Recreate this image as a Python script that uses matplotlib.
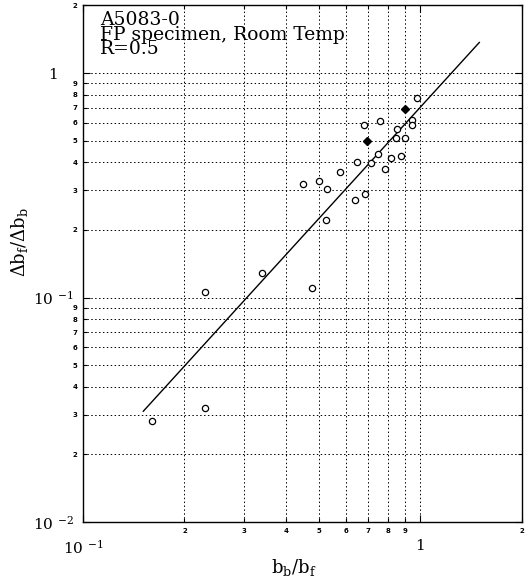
import numpy as np
import matplotlib
matplotlib.use("Agg")
import matplotlib.pyplot as plt
from matplotlib.ticker import FixedLocator, FixedFormatter

# measured points (open circles)
bb_open = [0.978, 0.679, 0.760, 0.946, 0.946, 0.850, 0.846, 0.900, 0.748, 0.715,
           0.647, 0.818, 0.878, 0.788, 0.578, 0.500, 0.450, 0.529, 0.687, 0.638,
           0.526, 0.339, 0.230, 0.476, 0.230, 0.160]
db_open = [0.778, 0.585, 0.609, 0.620, 0.589, 0.563, 0.514, 0.514, 0.438, 0.398,
           0.401, 0.418, 0.427, 0.372, 0.361, 0.331, 0.320, 0.306, 0.290, 0.272,
           0.221, 0.129, 0.106, 0.110, 0.0322, 0.0282]
# filled diamonds
bb_fill = [0.898, 0.696]
db_fill = [0.691, 0.497]

# power-law fit  y = a * x^n
fit_a = 0.705
fit_n = 1.65
fit_xmin, fit_xmax = 0.151, 1.495

x_major = [0.1, 1]
x_major_lbl = [r'$\mathregular{10\ ^{-1}}$', '1']
x_minor = [0.2, 0.3, 0.4, 0.5, 0.6, 0.7, 0.8, 0.9, 2]
y_major = [0.01, 0.1, 1]
y_major_lbl = [r'$\mathregular{10\ ^{-2}}$', r'$\mathregular{10\ ^{-1}}$', '1']
y_minor = [0.02, 0.03, 0.04, 0.05, 0.06, 0.07, 0.08, 0.09,
           0.2, 0.3, 0.4, 0.5, 0.6, 0.7, 0.8, 0.9, 2]


def digit(v):
    return str(v)[-1] if v < 1 else str(int(v))


plt.rcParams['font.family'] = ['DejaVu Serif']
plt.rcParams['mathtext.fontset'] = 'dejavuserif'

fig = plt.figure(figsize=(5.28, 5.83), dpi=100)
ax = fig.add_axes([0.157, 0.1046, 0.8316, 0.886])
ax.set_xscale('log')
ax.set_yscale('log')
ax.set_xlim(0.1, 2)
ax.set_ylim(0.01, 2)

ax.xaxis.set_major_locator(FixedLocator(x_major))
ax.xaxis.set_major_formatter(FixedFormatter(x_major_lbl))
ax.xaxis.set_minor_locator(FixedLocator(x_minor))
ax.xaxis.set_minor_formatter(FixedFormatter([digit(v) for v in x_minor]))
ax.yaxis.set_major_locator(FixedLocator(y_major))
ax.yaxis.set_major_formatter(FixedFormatter(y_major_lbl))
ax.yaxis.set_minor_locator(FixedLocator(y_minor))
ax.yaxis.set_minor_formatter(FixedFormatter([digit(v) for v in y_minor]))

ax.tick_params(which='both', direction='in', top=True, right=True, width=0.8)
ax.tick_params(which='major', length=5, labelsize=11)
ax.tick_params(axis='x', which='major', pad=12)
ax.tick_params(axis='y', which='major', pad=21.5)
ax.tick_params(which='minor', length=3, labelsize=5, pad=4)
for lbl in ax.get_xminorticklabels() + ax.get_yminorticklabels():
    lbl.set_fontweight('bold')
    lbl.set_family('DejaVu Sans')
for lbl in ax.get_yticklabels():
    lbl.set_horizontalalignment('center')

ax.grid(True, which='both', color='black', linestyle=(0, (1.5, 2.5)), linewidth=0.7)
for s in ax.spines.values():
    s.set_linewidth(1.0)

xf = np.logspace(np.log10(fit_xmin), np.log10(fit_xmax), 50)
ax.plot(xf, fit_a * xf ** fit_n, color='black', linewidth=1.0, zorder=3)

ax.plot(bb_open, db_open, linestyle='none', marker='o', markersize=4.5,
        markerfacecolor='white', markeredgecolor='black', markeredgewidth=0.9, zorder=4)
ax.plot(bb_fill, db_fill, linestyle='none', marker='D', markersize=4.5,
        color='black', zorder=4)

ax.text(0.04, 0.99, 'A5083-0\nFP specimen, Room Temp\nR=0.5', transform=ax.transAxes,
        ha='left', va='top', fontsize=13.5, linespacing=0.78)

fig.text(0.557, 0.008, r'$\mathregular{b_b/b_f}$', ha='center', va='bottom', fontsize=13)
fig.text(0.036, 0.585, r'$\mathregular{\Delta b_f/\Delta b_b}$', ha='center', va='center',
         rotation=90, fontsize=13)

fig.savefig('out.png', dpi=100)
